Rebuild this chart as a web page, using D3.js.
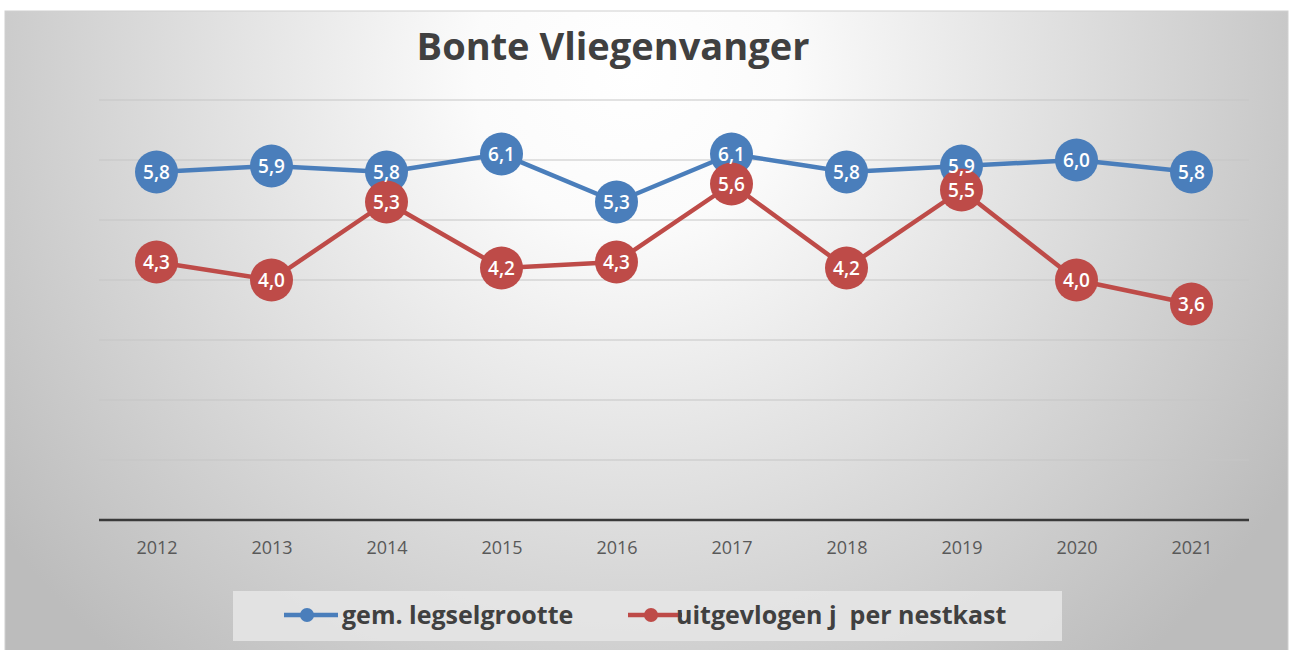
<!DOCTYPE html>
<html>
<head>
<meta charset="utf-8">
<script src="https://cdn.jsdelivr.net/npm/d3@7"></script>
<style>
  html, body { margin: 0; padding: 0; background: #ffffff; }
  svg { display: block; }
</style>
</head>
<body>
<svg id="chart" width="1290" height="650"></svg>
<script>
const title = "Bonte Vliegenvanger";
const years = ["2012","2013","2014","2015","2016","2017","2018","2019","2020","2021"];
const legselgrootte = [5.8, 5.9, 5.8, 6.1, 5.3, 6.1, 5.8, 5.9, 6.0, 5.8];
const uitgevlogen = [4.3, 4.0, 5.3, 4.2, 4.3, 5.6, 4.2, 5.5, 4.0, 3.6];
const seriesNames = ["gem. legselgrootte", "uitgevlogen j  per nestkast"];
const yTicks = [0, 1, 2, 3, 4, 5, 6, 7];

const colors = ["#4a7ebb", "#be4b48"];
const font = "'Open Sans', Lato, sans-serif";

const svg = d3.select("#chart");
const defs = svg.append("defs");
const grad = defs.append("radialGradient")
  .attr("id", "bg").attr("gradientUnits", "userSpaceOnUse")
  .attr("cx", 630).attr("cy", 70).attr("r", 780);
grad.append("stop").attr("offset", "0").attr("stop-color", "#ffffff");
grad.append("stop").attr("offset", "0.2").attr("stop-color", "#fbfbfb");
grad.append("stop").attr("offset", "1").attr("stop-color", "#bcbcbc");

svg.append("rect").attr("x", 5).attr("y", 11).attr("width", 1283).attr("height", 645)
  .attr("fill", "url(#bg)").attr("stroke", "#d0d0d0").attr("stroke-width", 1);

const plot = { left: 99, right: 1249, top: 100, bottom: 520 };

const x = d3.scalePoint().domain(years).range([plot.left, plot.right]).padding(0.5);
const y = d3.scaleLinear().domain([0, 7]).range([plot.bottom, plot.top]);

// gridlines
svg.append("g").selectAll("line").data(yTicks.filter(d => d > 0)).join("line")
  .attr("x1", plot.left).attr("x2", plot.right)
  .attr("y1", d => y(d)).attr("y2", d => y(d))
  .attr("stroke", "#c6c6c6").attr("stroke-width", 1.2);

// x axis
const xAxis = svg.append("g").attr("transform", `translate(0,${plot.bottom})`)
  .call(d3.axisBottom(x).tickSize(0).tickPadding(21));
xAxis.select(".domain").remove();
xAxis.append("line").attr("x1", plot.left).attr("x2", plot.right)
  .attr("stroke", "#3a3a3a").attr("stroke-width", 2.6);
xAxis.selectAll(".tick text")
  .attr("font-family", font).attr("font-size", 18).attr("fill", "#595959");

// title
svg.append("text").attr("x", 613).attr("y", 60).attr("text-anchor", "middle")
  .attr("font-family", font).attr("font-weight", "bold").attr("font-size", 38)
  .attr("fill", "#404040").text(title);

const line = d3.line().x((d, i) => x(years[i])).y(d => y(d));
const allSeries = [legselgrootte, uitgevlogen];

allSeries.forEach((vals, s) => {
  const g = svg.append("g");
  g.append("path").datum(vals).attr("d", line)
    .attr("fill", "none").attr("stroke", colors[s]).attr("stroke-width", 4.5)
    .attr("stroke-linejoin", "round");
  g.selectAll("circle").data(vals).join("circle")
    .attr("cx", (d, i) => x(years[i])).attr("cy", d => y(d)).attr("r", 21.5)
    .attr("fill", colors[s]);
});

// labels on top
allSeries.forEach((vals, s) => {
  svg.append("g").selectAll("text").data(vals).join("text")
    .attr("x", (d, i) => x(years[i])).attr("y", d => y(d))
    .attr("dy", "0.36em").attr("text-anchor", "middle")
    .attr("font-family", font).attr("font-weight", "600").attr("font-size", 19)
    .attr("fill", "#ffffff")
    .text(d => d3.format(".1f")(d).replace(".", ","));
});

// legend
svg.append("rect").attr("x", 233).attr("y", 591).attr("width", 829).attr("height", 50)
  .attr("fill", "#e6e6e6").attr("opacity", 0.85);
const legendItems = [
  { lx: 284, tx: 342 },
  { lx: 628, tx: 676 }
];
legendItems.forEach((it, s) => {
  const g = svg.append("g");
  g.append("line").attr("x1", it.lx).attr("x2", it.lx + 54).attr("y1", 615).attr("y2", 615)
    .attr("stroke", colors[s]).attr("stroke-width", 4.5);
  g.append("circle").attr("cx", it.lx + 23).attr("cy", 615).attr("r", 7).attr("fill", colors[s]);
  g.append("text").attr("x", it.tx).attr("y", 624).attr("xml:space", "preserve")
    .style("white-space", "pre")
    .attr("font-family", font).attr("font-weight", "bold").attr("font-size", 25)
    .attr("fill", "#404040").text(seriesNames[s]);
});
</script>
</body>
</html>
